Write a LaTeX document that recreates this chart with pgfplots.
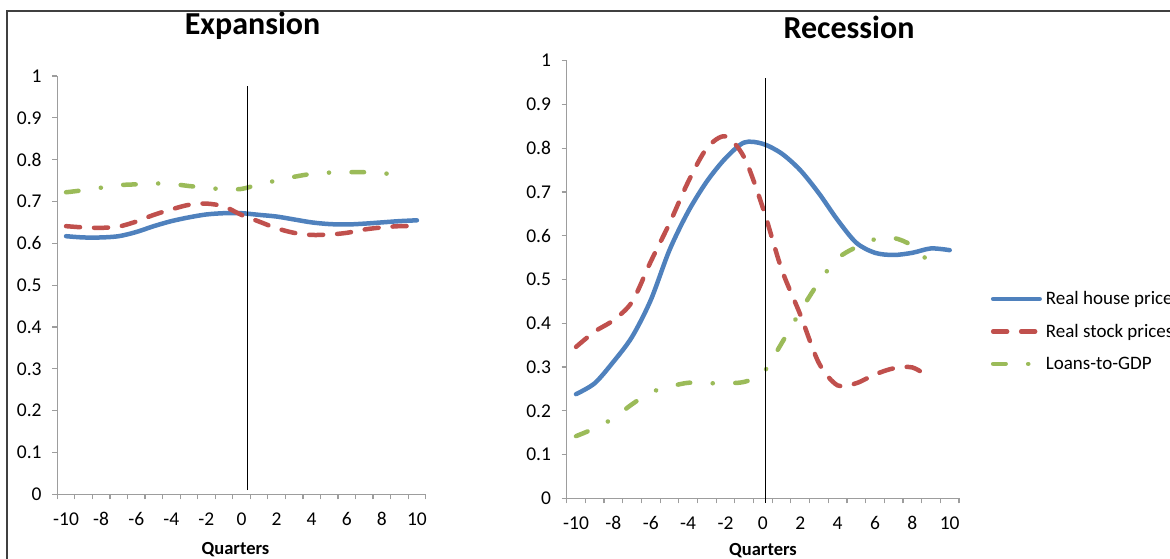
\documentclass[border=0pt]{standalone}
\usepackage{pgfplots}
\pgfplotsset{compat=1.18}
\usepackage{fontspec}
\setmainfont{Carlito}
\definecolor{cblue}{HTML}{4F81BD}
\definecolor{cred}{HTML}{C0504D}
\definecolor{cgreen}{HTML}{9BBB59}
\definecolor{axgray}{HTML}{9D9D9D}
\definecolor{framegray}{HTML}{404040}
\pgfplotsset{
  excel/.style={
    scale only axis, clip=false,
    xmin=-10.5, xmax=10.5, ymin=0, ymax=1,
    axis x line=bottom, axis y line=left,
    axis line style={-, draw=axgray, line width=1.4pt},
    xtick={-10,-8,-6,-4,-2,0,2,4,6,8,10},
    xticklabels={-10,-8,-6,-4,-2,0,2,4,6,8,10},
    minor xtick={-10.5,-9.5,...,10.5},
    ytick={0,0.1,0.2,0.3,0.4,0.5,0.6,0.7,0.8,0.9,1},
    yticklabels={0,0.1,0.2,0.3,0.4,0.5,0.6,0.7,0.8,0.9,1},
    major x tick style={draw=none},
    tick style={draw=axgray, line width=1.2pt},
    tick align=outside,
    major tick length=5pt, minor tick length=5pt,
    ticklabel style={font=\fontsize{19.5}{22}\selectfont, inner sep=0pt},
    xticklabel style={anchor=base, yshift=-26.5pt},
    yticklabel style={anchor=east, xshift=-10.5pt},
  },
  hp/.style={cblue, line width=4.5pt, smooth, line cap=round, line join=round},
  sp/.style={cred, line width=4.5pt, smooth, line cap=round, dash pattern=on 14pt off 14pt},
  lg/.style={cgreen, line width=4.5pt, smooth, line cap=round, dash pattern=on 12.5pt off 22.5pt on 0.1pt off 22.5pt},
}
\begin{document}
\begin{tikzpicture}[x=1pt,y=1pt]
\useasboundingbox (0,0) rectangle (1170,559);
\draw[framegray, line width=1.4pt] (7,-5) -- (7,548) -- (1180,548);
\node[font=\bfseries\fontsize{32}{36}\selectfont, anchor=base] at (252.5,524) {Expansion};
\node[font=\bfseries\fontsize{32}{36}\selectfont, anchor=base] at (849,520.7) {Recession};
\node[font=\bfseries\fontsize{18.5}{22}\selectfont, anchor=base] at (235.5,4) {Quarters};
\node[font=\bfseries\fontsize{18.5}{22}\selectfont, anchor=base] at (763,3) {Quarters};

\begin{axis}[excel, at={(57.3pt,64.7pt)}, anchor=south west, width=368.4pt, height=418.3pt]
\addplot[hp] coordinates {(-10,0.617)(-9,0.614)(-8,0.614)(-7,0.617)(-6,0.627)(-5,0.641)(-4,0.653)(-3,0.662)(-2,0.669)(-1,0.672)(0,0.672)(1,0.668)(2,0.664)(3,0.657)(4,0.650)(5,0.646)(6,0.645)(7,0.647)(8,0.650)(9,0.653)(10,0.655)};
\addplot[sp] coordinates {(-10,0.641)(-9,0.638)(-8,0.637)(-7,0.640)(-6,0.652)(-5,0.668)(-4,0.681)(-3,0.692)(-2,0.695)(-1,0.688)(0,0.668)(1,0.652)(2,0.636)(3,0.625)(4,0.620)(5,0.621)(6,0.625)(7,0.633)(8,0.638)(9,0.641)(10,0.641)};
\addplot[lg] coordinates {(-10,0.722)(-9,0.727)(-8,0.733)(-7,0.739)(-6,0.741)(-5,0.743)(-4,0.742)(-3,0.737)(-2,0.733)(-1,0.729)(0,0.730)(1,0.741)(2,0.750)(3,0.759)(4,0.766)(5,0.769)(6,0.770)(7,0.770)(8,0.768)(9,0.762)};
\addplot[black, line width=1.3pt] coordinates {(0.33,0.01)(0.33,0.975)};
\end{axis}

\begin{axis}[excel, at={(566.7pt,60.7pt)}, anchor=south west, width=392.3pt, height=437.6pt,
  legend cell align=left,
  legend style={at={(1.0808,0.382)}, anchor=west, draw=none, fill=none, inner sep=0pt,
    font=\fontsize{19}{23}\selectfont, row sep=18pt,
    nodes={inner sep=0pt}, column sep=4pt},
  legend image code/.code={\draw[#1] (2.25pt,0pt) -- (48.75pt,0pt);}]
\addplot[hp] coordinates {(-10,0.238)(-9,0.263)(-8,0.312)(-7,0.369)(-6,0.453)(-5,0.567)(-4,0.655)(-3,0.724)(-2,0.777)(-1,0.813)(0,0.810)(1,0.788)(2,0.750)(3,0.697)(4,0.636)(5,0.584)(6,0.561)(7,0.556)(8,0.561)(9,0.571)(10,0.567)};
\addlegendentry{Real house prices}
\addplot[sp] coordinates {(-10,0.346)(-9,0.381)(-8,0.407)(-7,0.449)(-6,0.541)(-5,0.628)(-4,0.723)(-3,0.800)(-2,0.827)(-1,0.779)(0,0.664)(1,0.524)(2,0.420)(3,0.309)(4,0.258)(5,0.263)(6,0.283)(7,0.297)(8,0.299)(9,0.275)};
\addlegendentry{Real stock prices}
\addplot[lg] coordinates {(-10,0.142)(-9,0.160)(-8,0.183)(-7,0.215)(-6,0.242)(-5,0.255)(-4,0.264)(-3,0.263)(-2,0.263)(-1,0.266)(0,0.286)(1,0.354)(2,0.427)(3,0.494)(4,0.548)(5,0.574)(6,0.592)(7,0.595)(8,0.577)(9,0.535)};
\addlegendentry{Loans-to-GDP}
\addplot[black, line width=1.3pt, forget plot] coordinates {(0.15,-0.01)(0.15,0.96)};
\end{axis}
\end{tikzpicture}
\end{document}
